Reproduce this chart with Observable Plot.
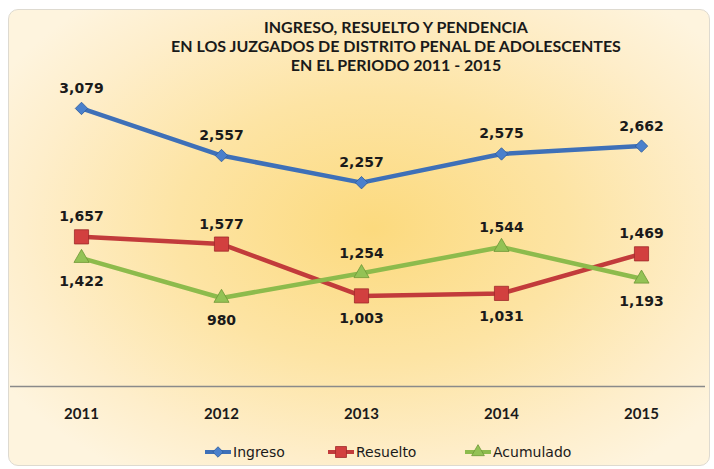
<!DOCTYPE html>
<html>
<head>
<meta charset="utf-8">
<script src="https://cdn.jsdelivr.net/npm/d3@7"></script>
<script src="https://cdn.jsdelivr.net/npm/@observablehq/plot@0.6"></script>
<style>
  html, body { margin: 0; padding: 0; background: #ffffff; }
  body { width: 714px; height: 469px; position: relative; overflow: hidden; }
  #frame {
    position: absolute; left: 8px; top: 9px; width: 700px; height: 455px;
    border: 1px solid #dedad0; border-radius: 10px; overflow: hidden;
    background: radial-gradient(ellipse 62% 65% at 52% 48%, #fcda7e 0%, #fde4a4 45%, #feeecb 80%, #fef4de 100%);
  }
  #title {
    height: 57px; padding-top: 7px; padding-left: 74px; text-align: center;
    font-family: Lato, "Open Sans", sans-serif; font-weight: bold; font-size: 16px;
    line-height: 19px; color: #1a1a1a;
  }
  #chart svg { display: block; }
  #legend { position: relative; height: 41px; font-family: "DejaVu Sans", sans-serif; font-size: 14px; color: #1a1a1a; }
  .item { position: absolute; top: 20px; height: 16px; display: flex; align-items: center; }
  .item svg { display: block; margin-right: 2px; }
</style>
</head>
<body>
<div id="frame">
  <div id="title">INGRESO, RESUELTO Y PENDENCIA<br>EN LOS JUZGADOS DE DISTRITO PENAL DE ADOLESCENTES<br>EN EL PERIODO 2011 - 2015</div>
  <div id="chart"></div>
  <div id="legend"></div>
</div>
<script>
const years = ["2011", "2012", "2013", "2014", "2015"];
const ingreso = [3079, 2557, 2257, 2575, 2662];
const resuelto = [1657, 1577, 1003, 1031, 1469];
const acumulado = [1422, 980, 1254, 1544, 1193];
const seriesNames = ["Ingreso", "Resuelto", "Acumulado"];
const ingresoLabelPos = ["above", "above", "above", "above", "above"];
const resueltoLabelPos = ["above", "above", "below", "below", "above"];
const acumuladoLabelPos = ["below", "below", "above", "above", "below"];

const lineColors = ["#3e70b8", "#c23b3b", "#8dbb4c"];
const fillColors = ["#4a80cc", "#d2403f", "#93c255"];
const edgeColors = ["#2d5a99", "#9e2a2a", "#6d9736"];
const symbols = ["diamond2", "square", "triangle"];
const symbolR = [5.6, 8, 5.6];

const valuesBySeries = [ingreso, resuelto, acumulado];
const posBySeries = [ingresoLabelPos, resueltoLabelPos, acumuladoLabelPos];
const data = [];
seriesNames.forEach((s, i) => {
  years.forEach((y, j) => {
    data.push({series: s, year: y, value: valuesBySeries[i][j], pos: posBySeries[i][j], idx: i});
  });
});

const fmt = d3.format(",");
const marks = [Plot.ruleY([0], {stroke: "#8a8a8a", strokeWidth: 1.3})];
seriesNames.forEach((s, i) => {
  const d = data.filter(r => r.series === s);
  marks.push(Plot.line(d, {x: "year", y: "value", stroke: lineColors[i], strokeWidth: 4.5, strokeLinejoin: "round", strokeLinecap: "round"}));
});
seriesNames.forEach((s, i) => {
  const d = data.filter(r => r.series === s);
  marks.push(Plot.dot(d, {x: "year", y: "value", symbol: () => symbols[i], r: symbolR[i], fill: fillColors[i], stroke: edgeColors[i], strokeWidth: 0.8}));
});
marks.push(Plot.text(data.filter(r => r.pos === "above"), {x: "year", y: "value", text: r => fmt(r.value), dy: -20, fontSize: 14, fontWeight: "bold", fill: "#1a1a1a"}));
marks.push(Plot.text(data.filter(r => r.pos === "below"), {x: "year", y: "value", text: r => fmt(r.value), dy: 23, fontSize: 14, fontWeight: "bold", fill: "#1a1a1a"}));
marks.push(Plot.axisX({tickSize: 0, tickPadding: 22, fontSize: 15, fontWeight: "bold", fontFamily: "Lato, sans-serif", fill: "#1a1a1a", label: null}));

const chart = Plot.plot({
  width: 700,
  height: 350,
  marginTop: 23,
  marginBottom: 38,
  marginLeft: 1,
  marginRight: 4,
  x: {type: "point", domain: years, range: [71, 633], padding: 0, axis: null},
  y: {domain: [0, 3200], axis: null},
  style: {fontFamily: "'DejaVu Sans', sans-serif", background: "transparent", color: "#1a1a1a", overflow: "visible"},
  marks
});
document.getElementById("chart").appendChild(chart);

// legend
const legend = document.getElementById("legend");
const legendLeft = [196, 319, 456];
seriesNames.forEach((s, i) => {
  const item = document.createElement("div");
  item.className = "item";
  item.style.left = legendLeft[i] + "px";
  const sym = d3.create("svg").attr("width", 26).attr("height", 16);
  sym.append("line").attr("x1", 0).attr("x2", 26).attr("y1", 8).attr("y2", 8)
     .attr("stroke", lineColors[i]).attr("stroke-width", 4);
  const symType = [d3.symbolDiamond2, d3.symbolSquare, d3.symbolTriangle][i];
  const size = [70, 120, 70][i];
  sym.append("path").attr("d", d3.symbol(symType, size)()).attr("transform", "translate(13,8)")
     .attr("fill", fillColors[i]).attr("stroke", edgeColors[i]).attr("stroke-width", 0.8);
  item.appendChild(sym.node());
  const t = document.createElement("span");
  t.textContent = s;
  item.appendChild(t);
  legend.appendChild(item);
});
</script>
</body>
</html>
